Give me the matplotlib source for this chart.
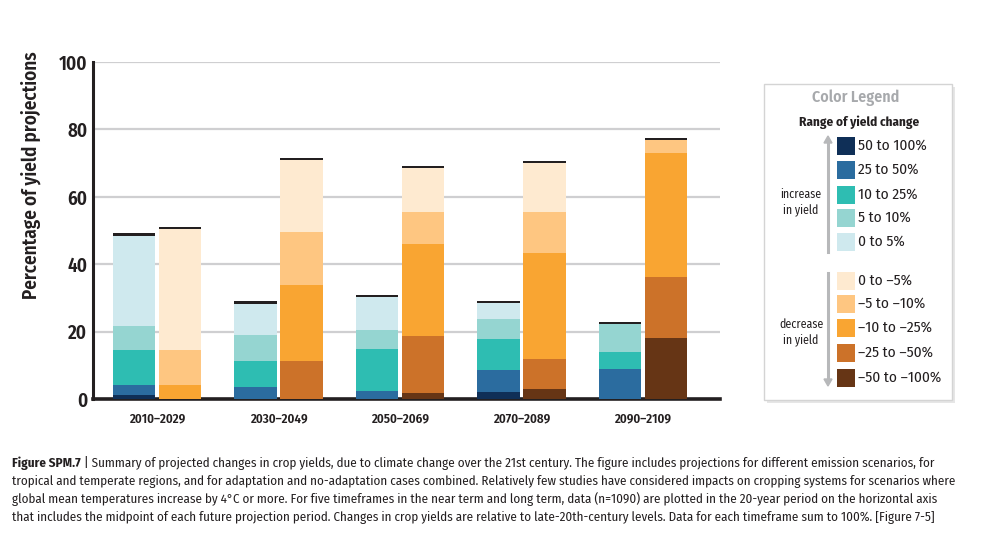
import matplotlib
matplotlib.use("Agg")
import logging
logging.getLogger('matplotlib.font_manager').setLevel(logging.ERROR)
import matplotlib.pyplot as plt
from matplotlib.patches import Rectangle
import numpy as np

# ---------------- data ----------------
categories = ['2010–2029', '2030–2049', '2050–2069', '2070–2089', '2090–2109']

# increase in yield (bottom to top)
inc_50_100 = [1.1, 0.0, 0.0, 2.2, 0.0]
inc_25_50 = [3.1, 3.6, 2.3, 6.5, 9.0]
inc_10_25 = [10.4, 7.7, 12.6, 9.2, 4.8]
inc_5_10 = [7.0, 7.8, 5.7, 5.9, 8.4]
inc_0_5 = [26.9, 9.2, 9.7, 4.7, 0.0]

# decrease in yield (bottom to top)
dec_50_100 = [0.0, 0.0, 1.8, 3.0, 18.1]
dec_25_50 = [0.0, 11.4, 17.0, 8.9, 18.1]
dec_10_25 = [4.2, 22.5, 27.3, 31.5, 36.7]
dec_5_10 = [10.4, 15.8, 9.4, 12.0, 3.9]
dec_0_5 = [35.7, 21.2, 12.9, 14.5, 0.0]

inc_labels = ['50 to 100%', '25 to 50%', '10 to 25%', '5 to 10%', '0 to 5%']
dec_labels = ['0 to –5%', '–5 to –10%', '–10 to –25%', '–25 to –50%', '–50 to –100%']
yticks = [0, 20, 40, 60, 80, 100]

inc_colors = ['#0f2f57', '#2b6c9f', '#2ebdb2', '#95d5d1', '#cfe9ee']
dec_colors = ['#663515', '#cc7229', '#f9a532', '#fec681', '#feead0']  # bottom->top

# ---------------- fonts ----------------
plt.rcParams['font.family'] = ['Fira Sans Condensed', 'PT Sans Narrow',
                               'Encode Sans Condensed', 'Liberation Sans', 'DejaVu Sans']
TXT = '#231f20'

W, H = 990, 554
fig = plt.figure(figsize=(W / 100, H / 100), dpi=100)
renderer = fig.canvas.get_renderer()


def fx(x):
    return x / W


def fy(y):
    return 1 - y / H


def fit_fs(s, target_px, weight='normal'):
    t = fig.text(0, 0, s, fontsize=10, fontweight=weight)
    w = t.get_window_extent(renderer).width
    t.remove()
    return 10 * target_px / w


ax = fig.add_axes([fx(93), fy(399), fx(720) - fx(93), fy(62) - fy(399)])

x = np.arange(len(categories))
off = 0.19
bw = 0.35

inc_series = [inc_50_100, inc_25_50, inc_10_25, inc_5_10, inc_0_5]
dec_series = [dec_50_100, dec_25_50, dec_10_25, dec_5_10, dec_0_5]

bottom = np.zeros(len(categories))
for vals, col in zip(inc_series, inc_colors):
    ax.bar(x - off, vals, bw, bottom=bottom, color=col, linewidth=0, zorder=3)
    bottom += np.array(vals)
inc_tot = bottom.copy()

bottom = np.zeros(len(categories))
for vals, col in zip(dec_series, dec_colors):
    ax.bar(x + off, vals, bw, bottom=bottom, color=col, linewidth=0, zorder=3)
    bottom += np.array(vals)
dec_tot = bottom.copy()

# black caps on top of each bar
ax.bar(x - off, 0.7, bw, bottom=inc_tot, color='#231f20', linewidth=0, zorder=4)
ax.bar(x + off, 0.7, bw, bottom=dec_tot, color='#231f20', linewidth=0, zorder=4)

tick_fs = fit_fs('100', 29, 'semibold')
xt_fs = fit_fs('2010–2029', 58, 'semibold')

ax.set_xlim(-0.527, 4.634)
ax.set_ylim(0, 100)
ax.set_yticks(yticks)
ax.set_yticklabels([str(t) for t in yticks], fontsize=tick_fs, fontweight='semibold', color=TXT)
ax.set_xticks(x)
ax.set_xticklabels(categories, fontsize=xt_fs, fontweight='semibold', color=TXT)
ax.tick_params(axis='y', length=0, pad=4)
ax.tick_params(axis='x', length=0, pad=10)
ax.yaxis.grid(True, color='#cfcfd1', linewidth=1.6, zorder=0)
ax.set_axisbelow(True)
for s in ['top', 'right']:
    ax.spines[s].set_visible(False)
ax.spines['left'].set_linewidth(2.2)
ax.spines['left'].set_color('#231f20')
ax.spines['bottom'].set_linewidth(2.6)
ax.spines['bottom'].set_color('#231f20')

ylab = 'Percentage of yield projections'
fig.text(fx(31), fy(175), ylab, rotation=90, ha='center', va='center',
         fontsize=fit_fs(ylab, 250, 'semibold'), fontweight='semibold', color=TXT)

# ---------------- legend box ----------------
bx0, by0, bx1, by1 = 764, 84, 952, 400
shadow = Rectangle((fx(bx0 + 3), fy(by1 + 3)), fx(bx1) - fx(bx0), fy(by0) - fy(by1),
                   transform=fig.transFigure, facecolor='#e6e6e6', edgecolor='none', zorder=0)
fig.add_artist(shadow)
box = Rectangle((fx(bx0), fy(by1)), fx(bx1) - fx(bx0), fy(by0) - fy(by1),
                transform=fig.transFigure, facecolor='white', edgecolor='#d4d4d4',
                linewidth=1.0, zorder=1)
fig.add_artist(box)

fig.text(fx(856), fy(98), 'Color Legend', ha='center', va='center',
         fontsize=fit_fs('Color Legend', 88, 'semibold'),
         fontweight='semibold', color='#a7a9ac', zorder=2)
fig.text(fx(859), fy(122), 'Range of yield change', ha='center', va='center',
         fontsize=fit_fs('Range of yield change', 120, 'bold'),
         fontweight='bold', color=TXT, zorder=2)

leg_fs = fit_fs('–50 to –100%', 84)
inc_rows = [146, 170, 195, 218, 242]
dec_rows = [281, 304, 328, 353, 378]
sw = 18
for yy, col, lab in zip(inc_rows, inc_colors, inc_labels):
    fig.add_artist(Rectangle((fx(837), fy(yy + sw / 2)), fx(sw), sw / H,
                             transform=fig.transFigure, facecolor=col, edgecolor='none', zorder=2))
    fig.text(fx(858), fy(yy), lab, ha='left', va='center', fontsize=leg_fs, color=TXT, zorder=2)
for yy, col, lab in zip(dec_rows, dec_colors[::-1], dec_labels):
    fig.add_artist(Rectangle((fx(837), fy(yy + sw / 2)), fx(sw), sw / H,
                             transform=fig.transFigure, facecolor=col, edgecolor='none', zorder=2))
    fig.text(fx(858), fy(yy), lab, ha='left', va='center', fontsize=leg_fs, color=TXT, zorder=2)

# arrows
ax_col = '#b7b8ba'
fig.add_artist(plt.Line2D([fx(828), fx(828)], [fy(252), fy(142)], transform=fig.transFigure,
                          color=ax_col, linewidth=2.2, zorder=2))
fig.add_artist(plt.Polygon([[fx(824), fy(143)], [fx(832), fy(143)], [fx(828), fy(136)]],
                           closed=True, transform=fig.transFigure, color=ax_col, zorder=2))
fig.add_artist(plt.Line2D([fx(828), fx(828)], [fy(273), fy(380)], transform=fig.transFigure,
                          color=ax_col, linewidth=2.2, zorder=2))
fig.add_artist(plt.Polygon([[fx(824), fy(379)], [fx(832), fy(379)], [fx(828), fy(386)]],
                           closed=True, transform=fig.transFigure, color=ax_col, zorder=2))
side_fs = fit_fs('decrease', 44)
fig.text(fx(801), fy(202), 'increase\nin yield', ha='center', va='center', fontsize=side_fs,
         color=TXT, linespacing=1.3, zorder=2)
fig.text(fx(801), fy(332), 'decrease\nin yield', ha='center', va='center', fontsize=side_fs,
         color=TXT, linespacing=1.3, zorder=2)

# ---------------- caption ----------------
bold_part = 'Figure SPM.7'
lines = [
    ' | Summary of projected changes in crop yields, due to climate change over the 21st century. The figure includes projections for different emission scenarios, for',
    'tropical and temperate regions, and for adaptation and no-adaptation cases combined. Relatively few studies have considered impacts on cropping systems for scenarios where',
    'global mean temperatures increase by 4°C or more. For five timeframes in the near term and long term, data (n=1090) are plotted in the 20-year period on the horizontal axis',
    'that includes the midpoint of each future projection period. Changes in crop yields are relative to late-20th-century levels. Data for each timeframe sum to 100%. [Figure 7-5]',
]
line_y = [463, 481, 499, 517]
cap_fs = fit_fs(lines[1], 957 - 12)

tb = fig.text(fx(12), fy(line_y[0]), bold_part, ha='left', va='center', fontsize=cap_fs,
              fontweight='bold', color=TXT)
bw_px = tb.get_window_extent(renderer).width
fig.text(fx(12 + bw_px), fy(line_y[0]), lines[0], ha='left', va='center', fontsize=cap_fs, color=TXT)
for ln, yy in zip(lines[1:], line_y[1:]):
    fig.text(fx(12), fy(yy), ln, ha='left', va='center', fontsize=cap_fs, color=TXT)

fig.savefig('out.png', dpi=100)
